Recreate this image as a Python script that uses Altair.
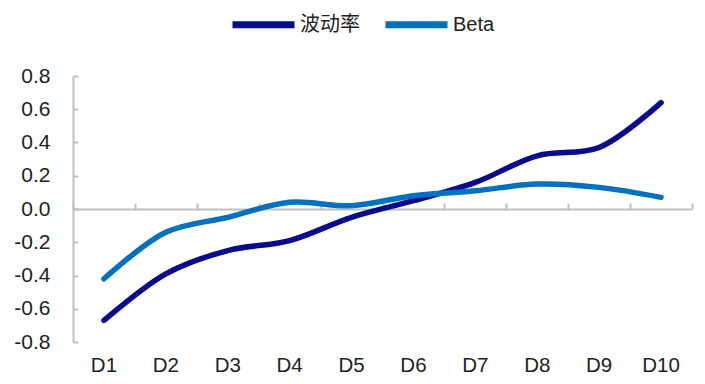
import altair as alt
import pandas as pd

categories = ["D1", "D2", "D3", "D4", "D5", "D6", "D7", "D8", "D9", "D10"]
vol = [-0.67, -0.39, -0.25, -0.19, -0.05, 0.05, 0.16, 0.32, 0.37, 0.64]
beta = [-0.42, -0.14, -0.05, 0.04, 0.02, 0.08, 0.11, 0.15, 0.13, 0.07]
series = ["波动率", "Beta"]
colors = ["#0A0A8E", "#0070C0"]

rows = []
for c, v in zip(categories, vol):
    rows.append({"cat": c, "val": v, "series": series[0]})
for c, v in zip(categories, beta):
    rows.append({"cat": c, "val": v, "series": series[1]})
df = pd.DataFrame(rows)

FONT = "Liberation Sans, Arial, Noto Sans CJK SC"
W, H = 619, 266

xscale = alt.Scale(type="band", paddingInner=0, paddingOuter=0, domain=categories)
yscale = alt.Scale(domain=[-0.8, 0.8], nice=False, zero=False)
ylab = "replace(format(datum.value, '.1f'), '−', '-')"
yvals = [-0.8, -0.6, -0.4, -0.2, 0.0, 0.2, 0.4, 0.6, 0.8]

lines = alt.Chart(df).mark_line(interpolate="catmull-rom", strokeWidth=5.5, strokeCap="round").encode(
    x=alt.X("cat:N", scale=xscale, sort=categories, bandPosition=0.5,
            axis=alt.Axis(orient="bottom", title=None, domain=False, ticks=False, tickSize=0,
                          labelPadding=13, labelAngle=0, labelFontSize=20.5, labelColor="#222",
                          labelFont=FONT, grid=False)),
    y=alt.Y("val:Q", scale=yscale,
            axis=alt.Axis(orient="left", title=None, domain=False, ticks=False, tickSize=0,
                          labelPadding=23, labelFontSize=21, labelColor="#222", labelFont=FONT,
                          values=yvals, labelExpr=ylab, grid=False)),
    color=alt.Color("series:N", scale=alt.Scale(domain=series, range=colors), sort=series,
                    legend=alt.Legend(title=None, orient="none", direction="horizontal",
                                      legendX=156, legendY=-86, symbolType="stroke",
                                      symbolSize=3844, symbolStrokeWidth=7,
                                      labelFontSize=20, labelFont=FONT, labelColor="#222",
                                      columnPadding=11, labelOffset=2)),
    detail="series:N",
)

axes = alt.Chart(df).mark_point(opacity=0).encode(
    x=alt.X("cat:N", scale=xscale, sort=categories, bandPosition=0.5,
            axis=alt.Axis(orient="top", offset=-H / 2, title=None, labels=False,
                          domainColor="#BFBFBF", domainWidth=2, tickColor="#BFBFBF",
                          tickWidth=2, tickSize=6, tickBand="extent", grid=False)),
    y=alt.Y("val:Q", scale=yscale,
            axis=alt.Axis(orient="right", offset=-W, title=None, labels=False,
                          values=yvals,
                          domainColor="#BFBFBF", domainWidth=2, tickColor="#BFBFBF",
                          tickWidth=2, tickSize=5, grid=False)),
)

chart = alt.layer(lines, axes).resolve_axis(x="independent", y="independent").properties(
    width=W, height=H,
    autosize=alt.AutoSizeParams(type="none"),
    padding={"left": 65, "top": 68, "right": 5, "bottom": 34},
).configure_view(stroke=None)

chart.save("out.html", embed_options={"renderer": "svg", "actions": False})
